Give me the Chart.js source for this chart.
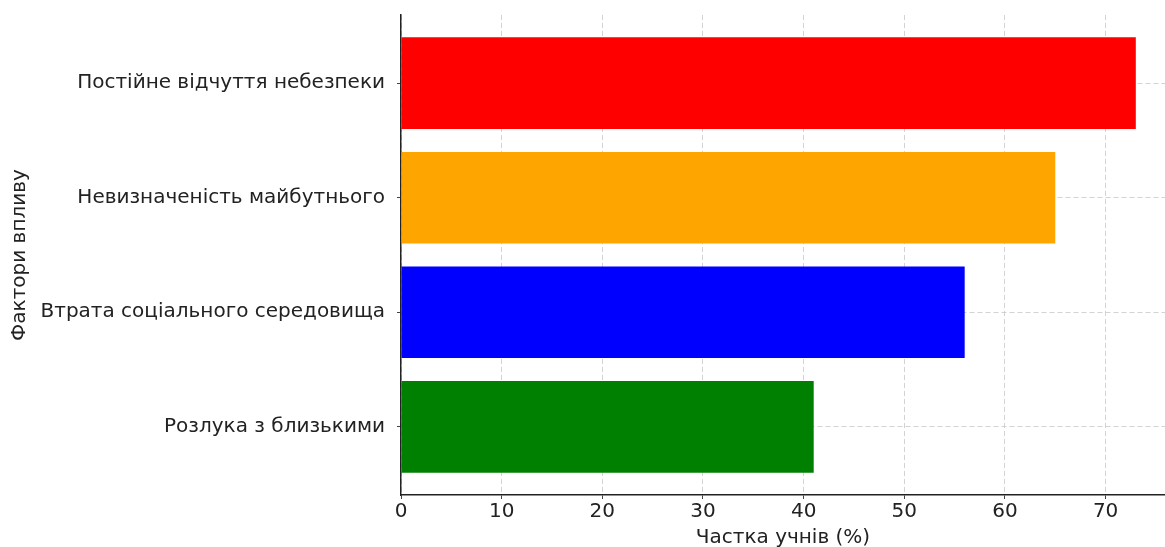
<!DOCTYPE html>
<html>
<head>
<meta charset="utf-8">
<script src="https://cdn.jsdelivr.net/npm/chart.js@4/dist/chart.umd.min.js"></script>
<style>
    html, body { margin: 0; padding: 0; background: #fff; }
    #wrap { width: 1165px; height: 547px; }
</style>
</head>
<body>
<div id="wrap"><canvas id="factorsChart"></canvas></div>
<script>
var categories = ['Постійне відчуття небезпеки', 'Невизначеність майбутнього', 'Втрата соціального середовища', 'Розлука з близькими'];
var shares = [73, 65, 56, 41];
var barColors = ['#ff0000', '#ffa500', '#0000ff', '#008000'];
var xTicksStep = 10;

document.addEventListener("DOMContentLoaded", function() {
    var ctx = document.getElementById('factorsChart').getContext('2d');
    var gridColor = 'rgba(200, 200, 200, 0.8)';
    var font = { family: 'DejaVu Sans', size: 20 };

    var points = shares.map(function(v, i) { return { x: v, y: i }; });

    new Chart(ctx, {
        type: 'bar',
        data: {
            datasets: [{
                label: 'Частка учнів (%)',
                data: points,
                backgroundColor: barColors,
                borderWidth: 0,
                barPercentage: 0.8,
                categoryPercentage: 1.0
            }]
        },
        options: {
            indexAxis: 'y',
            responsive: true,
            maintainAspectRatio: false,
            animation: false,
            layout: { padding: { top: 15, right: 0, left: 0, bottom: 0 } },
            plugins: {
                legend: { display: false },
                tooltip: { enabled: false }
            },
            scales: {
                x: {
                    type: 'linear',
                    min: 0,
                    max: 75.9,
                    z: 1,
                    grid: {
                        color: gridColor,
                        lineWidth: 1,
                        drawTicks: true,
                        tickLength: 4,
                        tickColor: '#444'
                    },
                    border: { display: true, color: '#222', width: 1.5, dash: [5, 3] },
                    ticks: {
                        stepSize: xTicksStep,
                        includeBounds: false,
                        padding: 1,
                        color: '#222',
                        font: font
                    },
                    title: {
                        display: true,
                        text: 'Частка учнів (%)',
                        color: '#222',
                        font: font,
                        padding: { top: 0, bottom: -3 }
                    },
                    afterFit: function(scale) {
                        scale.height = 52;
                        scale.paddingLeft = 0;
                        scale.paddingRight = 0;
                    }
                },
                y: {
                    type: 'linear',
                    reverse: true,
                    offset: false,
                    min: -0.595,
                    max: categories.length - 1 + 0.595,
                    z: 1,
                    grid: {
                        offset: false,
                        color: gridColor,
                        lineWidth: 1,
                        drawTicks: true,
                        tickLength: 4,
                        tickColor: '#444'
                    },
                    border: { display: true, color: '#222', width: 1.5, dash: [5, 3] },
                    afterBuildTicks: function(axis) {
                        axis.ticks = categories.map(function(c, i) { return { value: i }; });
                    },
                    ticks: {
                        padding: 12,
                        color: '#222',
                        font: font,
                        callback: function(value) { return categories[value]; }
                    },
                    title: {
                        display: true,
                        text: 'Фактори впливу',
                        color: '#222',
                        font: font,
                        padding: { top: 8, bottom: 0 }
                    },
                    afterFit: function(scale) {
                        scale.width = 401;
                        scale.paddingTop = 0;
                        scale.paddingBottom = 0;
                    }
                }
            }
        }
    });
});
</script>
</body>
</html>
